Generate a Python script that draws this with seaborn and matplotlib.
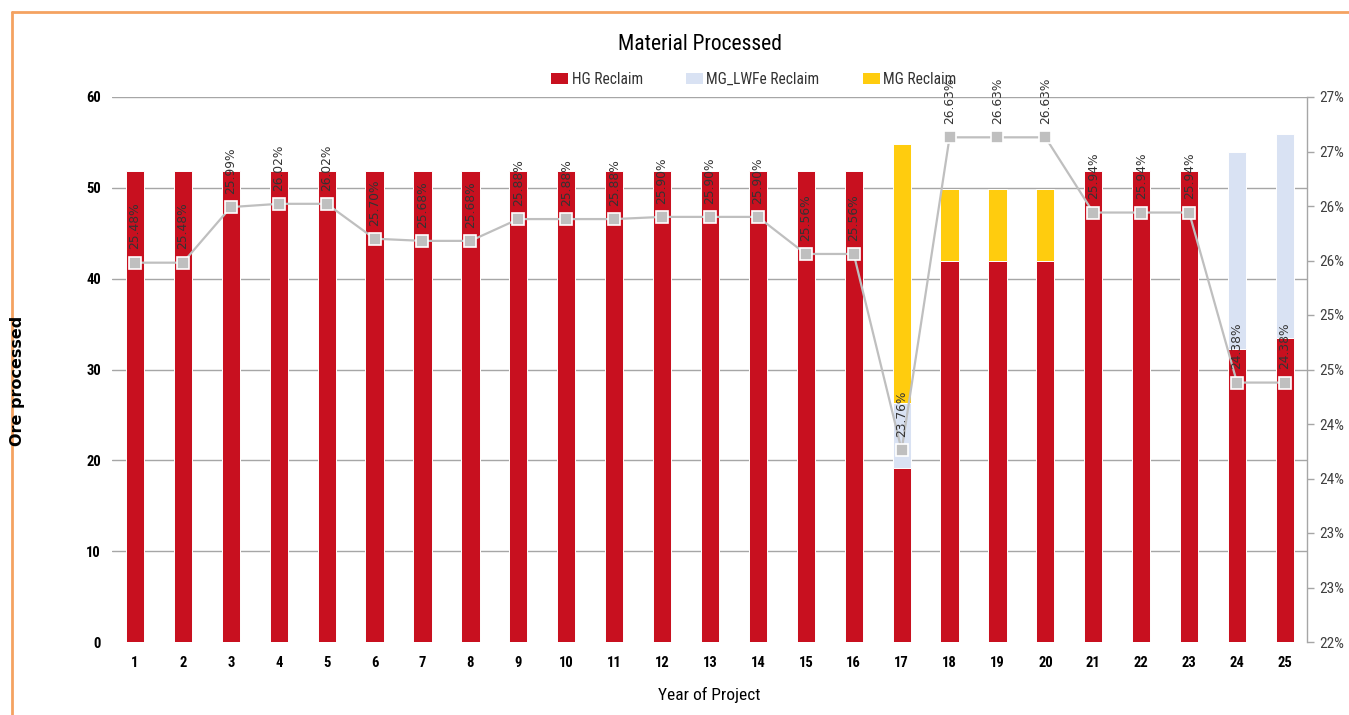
import numpy as np
import pandas as pd
import matplotlib
matplotlib.use("Agg")
import matplotlib.pyplot as plt
import seaborn as sns
from matplotlib import font_manager
from matplotlib.font_manager import FontProperties
from matplotlib.patches import Patch
from matplotlib.lines import Line2D

# ---- data -------------------------------------------------------------
years = [str(i) for i in range(1, 26)]
hg_reclaim = [51.8] * 16 + [19.2, 42.0, 42.0, 42.0, 51.8, 51.8, 51.8, 32.3, 33.5]
mg_lwfe_reclaim = [0.0] * 16 + [7.1, 0.0, 0.0, 0.0, 0.0, 0.0, 0.0, 21.6, 22.4]
mg_reclaim = [0.0] * 16 + [28.5, 7.9, 7.9, 7.9, 0.0, 0.0, 0.0, 0.0, 0.0]
head_grade = [25.48, 25.48, 25.99, 26.02, 26.02, 25.70, 25.68, 25.68, 25.88,
              25.88, 25.88, 25.90, 25.90, 25.90, 25.56, 25.56, 23.76, 26.63,
              26.63, 26.63, 25.94, 25.94, 25.94, 24.38, 24.38]
left_ticks = [0, 10, 20, 30, 40, 50, 60]
grade_ticks = [22.0, 22.5, 23.0, 23.5, 24.0, 24.5, 25.0, 25.5, 26.0, 26.5, 27.0]
grade_tick_labels = ["22%", "23%", "23%", "24%", "24%", "25%", "25%",
                     "26%", "26%", "27%", "27%"]

# ---- style ------------------------------------------------------------
sns.set_theme(style="white")
plt.rcParams["font.family"] = ["DejaVu Sans"]


def condensed_font(bold):
    """Pick a narrow/condensed face if one is installed."""
    fonts = font_manager.fontManager.ttflist
    prefs = ["Liberation Sans Narrow", "Roboto Condensed", "Open Sans Condensed",
             "Noto Sans", "Open Sans", "Roboto"]

    def is_narrow(f):
        n = (f.name + " " + f.fname).lower()
        return ("narrow" in n or "condensed" in n or
                str(f.stretch) in ("condensed", "semi-condensed", "extra-condensed"))

    def wt(f):
        w = f.weight
        if isinstance(w, str):
            w = {"bold": 700, "normal": 400, "regular": 400}.get(w, 400)
        return w

    cands = [f for f in fonts if is_narrow(f) and "italic" not in f.style
             and "italic" not in f.fname.lower()]
    target = 700 if bold else 400
    for p in prefs:
        sub = [f for f in cands if f.name.startswith(p)]
        if sub:
            sub.sort(key=lambda f: abs(wt(f) - target))
            return FontProperties(fname=sub[0].fname)
    return FontProperties(family="Liberation Sans",
                          weight="bold" if bold else "normal")


narrow_reg = condensed_font(False)
narrow_bold = condensed_font(True)

RED = "#C8101F"
BLUE = "#D9E2F3"
YELLOW = "#FFCC0E"
GRID = "#A6A6A6"

df = pd.DataFrame({
    "year": years,
    "hg": hg_reclaim,
    "lwfe": mg_lwfe_reclaim,
    "mg": mg_reclaim,
})
df["hg_lwfe"] = df["hg"] + df["lwfe"]
df["total"] = df["hg_lwfe"] + df["mg"]

fig = plt.figure(figsize=(13.49, 7.15), dpi=100)
ax = fig.add_axes([112 / 1349, 1 - 642 / 715, (1307 - 112) / 1349, (642 - 97) / 715])

# stacked bars drawn back to front from cumulative totals
bar_kw = dict(order=years, width=0.38, saturation=1, edgecolor="white",
              linewidth=0.7, ax=ax)
sns.barplot(data=df, x="year", y="total", color=YELLOW, **bar_kw)
sns.barplot(data=df, x="year", y="hg_lwfe", color=BLUE, **bar_kw)
sns.barplot(data=df, x="year", y="hg", color=RED, **bar_kw)

ax.set_xlim(-0.48, 24.46)
ax.set_ylim(0, 60)
ax.set_yticks(left_ticks)
ax.set_axisbelow(True)
ax.yaxis.grid(True, color=GRID, linewidth=1)
ax.get_ygridlines()[0].set_visible(False)
for s in ["left", "top", "right", "bottom"]:
    ax.spines[s].set_visible(False)
ax.tick_params(axis="y", length=0, pad=8)
ax.tick_params(axis="x", length=0, pad=10)
for lab in ax.get_xticklabels() + ax.get_yticklabels():
    lab.set_fontproperties(narrow_bold)
    lab.set_fontsize(10.5)
    lab.set_color("black")
ax.set_xlabel("Year of Project", fontproperties=narrow_reg, fontsize=12.5,
              labelpad=12, color="black")
ax.set_ylabel("")
fig.text(18 / 1349, 1 - 381 / 715, "Ore processed", rotation=90, ha="center",
         va="center", fontsize=11.5, fontweight="semibold", color="black")

# head grade line on the secondary axis
ax2 = ax.twinx()
sns.lineplot(x=np.arange(len(years)), y=head_grade, ax=ax2, color="#BFBFBF",
             linewidth=1.6, marker="s", markersize=8, markerfacecolor="#BFBFBF",
             markeredgecolor="white", markeredgewidth=1.2)
ax2.set_ylim(22, 27)
ax2.set_yticks(grade_ticks)
ax2.set_yticklabels(grade_tick_labels)
for s in ["left", "top", "bottom"]:
    ax2.spines[s].set_visible(False)
ax2.spines["right"].set_color(GRID)
ax2.spines["right"].set_linewidth(1)
ax2.tick_params(axis="y", length=5, width=1, color=GRID, pad=4,
                labelcolor="#404040")
for lab in ax2.get_yticklabels():
    lab.set_fontproperties(narrow_reg)
    lab.set_fontsize(11)

for i, g in enumerate(head_grade):
    ax2.annotate(f"{g:.2f}%", (i, g), xytext=(0, 9.5), textcoords="offset points",
                 rotation=90, ha="center", va="bottom", fontsize=8.8,
                 color="#333333")

# title and legend
fig.text(700 / 1349, 1 - 44 / 715, "Material Processed", ha="center", va="center",
         fontproperties=narrow_reg, fontsize=15.5, color="black")
handles = [Patch(facecolor=RED, edgecolor="none"),
           Patch(facecolor=BLUE, edgecolor="none"),
           Patch(facecolor=YELLOW, edgecolor="none")]
legend_font = narrow_reg.copy()
legend_font.set_size(11.2)
fig.legend(handles, ["HG Reclaim", "MG_LWFe Reclaim", "MG Reclaim"],
           loc="center", bbox_to_anchor=(754 / 1349, 1 - 79 / 715), ncol=3,
           frameon=False, prop=legend_font,
           handlelength=1.05, handleheight=0.7, handletextpad=0.25,
           columnspacing=2.8, labelcolor="#333333")

# page frame
fig.add_artist(Line2D([12 / 1349, 1], [1 - 12 / 715, 1 - 12 / 715],
                      transform=fig.transFigure, color="#F4A261", linewidth=2))
fig.add_artist(Line2D([12 / 1349, 12 / 1349], [0, 1 - 12 / 715],
                      transform=fig.transFigure, color="#F4A261", linewidth=2))

fig.savefig("out.png", dpi=100, facecolor="white")
